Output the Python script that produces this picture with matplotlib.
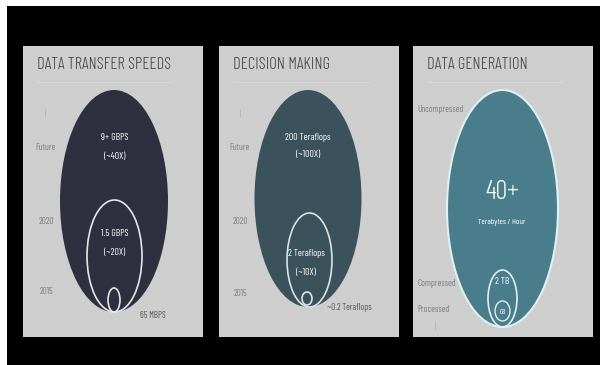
import matplotlib
matplotlib.use("Agg")
import matplotlib.pyplot as plt
from matplotlib.patches import Ellipse

# ---------------- data ----------------
titles = ["DATA TRANSFER SPEEDS", "DECISION MAKING", "DATA GENERATION"]
timeline_labels = ["Future", "2020", "2015"]
transfer_values = ["9+ GBPS", "1.5 GBPS", "65 MBPS"]
transfer_multipliers = ["(~40X)", "(~20X)"]
decision_values = ["200 Teraflops", "2 Teraflops", "~0.2 Teraflops"]
decision_multipliers = ["(~100X)", "(~10X)"]
generation_labels = ["Uncompressed", "Compressed", "Processed"]
generation_values = ["40+", "2 TB", "GB"]
generation_unit = "Terabytes / Hour"

# ---------------- style ----------------
FONT = ["Barlow Condensed", "DejaVu Sans"]
PANEL_BG = "#cecece"
ELL_COLORS = ["#2e3040", "#3b525d", "#4a7d8b"]
TITLE_C = "#444444"
LABEL_C = "#7c7c7c"
W, H = 600, 365

fig = plt.figure(figsize=(6, 3.65), dpi=100, facecolor="white")
bg = fig.add_axes([7 / W, 0, 593 / W, 359 / H], zorder=-5)
bg.set_facecolor("black")
bg.set_xticks([])
bg.set_yticks([])
for s in bg.spines.values():
    s.set_visible(False)

panel_left = [23, 219, 413]
panel_top, panel_w, panel_h = 46, 180, 291


def make_panel(i):
    ax = fig.add_axes([panel_left[i] / W, (H - panel_top - panel_h) / H, panel_w / W, panel_h / H])
    ax.set_facecolor(PANEL_BG)
    ax.set_xlim(0, panel_w)
    ax.set_ylim(panel_h, 0)
    ax.set_xticks([])
    ax.set_yticks([])
    for s in ax.spines.values():
        s.set_visible(False)
    ax.text(14, 19, titles[i], family=FONT, weight=300, fontsize=12, color=TITLE_C,
            ha="left", va="center")
    ax.plot([14, 150], [36, 36], color="#d8d8d8", lw=0.8)
    return ax


def txt(ax, x, y, s, size=7, color="white", ha="center", weight=400):
    ax.text(x, y, s, family=FONT, fontsize=size, color=color, ha=ha, va="center", weight=weight)


# ---- panel 1 ----
ax = make_panel(0)
ax.add_patch(Ellipse((91, 155), 108, 222, facecolor=ELL_COLORS[0], edgecolor="none"))
ax.add_patch(Ellipse((91.5, 210), 55, 112, facecolor="none", edgecolor="#e6e6e6", lw=1.2))
ax.add_patch(Ellipse((91, 254), 12, 24, facecolor="none", edgecolor="#e6e6e6", lw=1.2))
txt(ax, 92, 92, transfer_values[0])
txt(ax, 92, 110, transfer_multipliers[0])
txt(ax, 92, 188, transfer_values[1])
txt(ax, 92, 206, transfer_multipliers[1])
txt(ax, 117, 269, transfer_values[2], size=6.5, color="#555555", ha="left")
for lab, y in zip(timeline_labels, [102, 176, 246]):
    txt(ax, 23, y, lab, size=6.5, color=LABEL_C)
ax.plot([22, 22], [63, 70], color="#b5b5b5", lw=0.6)

# ---- panel 2 ----
ax = make_panel(1)
ax.add_patch(Ellipse((89, 152.5), 107, 217, facecolor=ELL_COLORS[1], edgecolor="none"))
ax.add_patch(Ellipse((90.5, 214), 45, 94, facecolor="none", edgecolor="#d9e4e6", lw=1.2))
ax.add_patch(Ellipse((88, 252.5), 10, 13, facecolor="none", edgecolor="#d9e4e6", lw=1.2))
txt(ax, 89, 91, decision_values[0])
txt(ax, 89, 109, decision_multipliers[0])
txt(ax, 87, 207, decision_values[1])
txt(ax, 87, 226, decision_multipliers[1])
txt(ax, 108, 261, decision_values[2], size=6.5, color="#555555", ha="left")
for lab, y in zip(timeline_labels, [102, 176, 247]):
    txt(ax, 21, y, lab, size=6.5, color=LABEL_C)
ax.plot([21, 21], [63, 70], color="#b5b5b5", lw=0.6)

# ---- panel 3 ----
ax = make_panel(2)
ax.add_patch(Ellipse((89.5, 162.5), 111, 237, facecolor=ELL_COLORS[2], edgecolor="#dff0f2", lw=1.5))
ax.add_patch(Ellipse((89.5, 252.5), 29, 57, facecolor="none", edgecolor="#dff0f2", lw=1.2))
ax.add_patch(Ellipse((89.5, 265), 15, 20, facecolor="none", edgecolor="#dff0f2", lw=1.0))
txt(ax, 89, 146, generation_values[0], size=19, weight=300)
txt(ax, 89, 176, generation_unit, size=6)
txt(ax, 89.5, 235, generation_values[1], size=7)
txt(ax, 89.5, 266, generation_values[2], size=5)
for lab, y in zip(generation_labels, [64, 237, 264]):
    txt(ax, 4, y, lab, size=6.5, color=LABEL_C, ha="left")
ax.plot([22, 22], [275, 283], color="#b5b5b5", lw=0.6)

fig.savefig("out.png", dpi=100, facecolor=fig.get_facecolor())
